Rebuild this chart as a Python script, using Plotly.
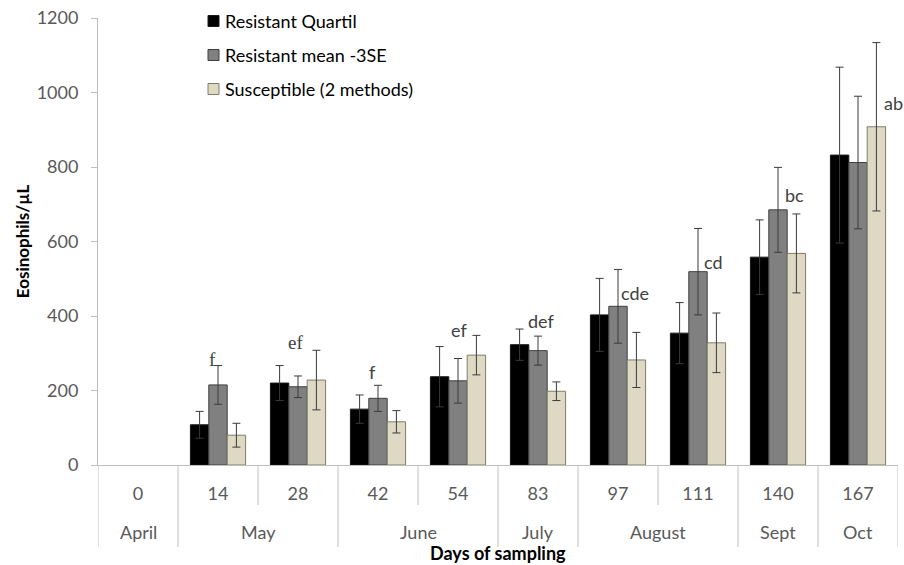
import plotly.graph_objects as go

# ---- data -------------------------------------------------------------
days = ["0", "14", "28", "42", "54", "83", "97", "111", "140", "167"]
months = ["April", "May", "May", "June", "June", "July", "August", "August", "Sept", "Oct"]

resistant_quartil = [None, 108, 220, 150, 237, 323, 403, 354, 558, 832]
resistant_quartil_err = [None, 36, 47, 38, 81, 42, 98, 82, 100, 236]

resistant_mean3se = [None, 215, 210, 179, 226, 307, 426, 519, 685, 812]
resistant_mean3se_err = [None, 52, 29, 35, 60, 39, 99, 116, 114, 178]

susceptible = [None, 80, 228, 116, 295, 198, 282, 328, 568, 908]
susceptible_err = [None, 32, 80, 30, 53, 25, 74, 80, 106, 226]

letters = ["", "f", "ef", "f", "ef", "def", "cde", "cd", "bc", "ab"]

series_names = ["Resistant Quartil", "Resistant mean -3SE", "Susceptible (2 methods)"]
y_ticks = [0, 200, 400, 600, 800, 1000, 1200]

# ---- styling / layout --------------------------------------------------
FONT = "Lato, Carlito, Calibri, sans-serif"
FS = 18
TEXT_GRAY = "#595959"
AXIS_GRAY = "#bfbfbf"
colors = ["#000000", "#808080", "#ddd9c3"]
outline = ["#1a1a1a", "#3f3f3f", "#7f7c6a"]

W, H = 904, 565
L, R, T, B = 98, 6, 18, 100
PW, PH = W - L - R, H - T - B

# letter placement: (offset from category centre in category units, y value)
letter_pos = [(0, 0), (-0.075, 282), (-0.03, 328), (-0.075, 250), (0.01, 362),
              (0.04, 387), (0.21, 462), (0.19, 545), (0.2, 725), (0.44, 972)]
letter_serif = [False, True, True, False, False, False, False, False, False, False]

xs = list(range(len(days)))

fig = go.Figure()
values = [resistant_quartil, resistant_mean3se, susceptible]
errors = [resistant_quartil_err, resistant_mean3se_err, susceptible_err]
for name, vals, errs, col, oc in zip(series_names, values, errors, colors, outline):
    fig.add_trace(go.Bar(
        x=xs, y=vals, name=name,
        marker=dict(color=col, line=dict(color=oc, width=1)),
        error_y=dict(type="data", array=errs, visible=True,
                     color="#3a3a3a", thickness=1, width=4),
        showlegend=False,
    ))

shapes = []
annotations = []


def py(px_y):
    """pixel row -> paper y"""
    return (H - B - px_y) / PH


def px(px_x):
    """pixel column -> paper x"""
    return (px_x - L) / PW


# category boundaries below the axis: long lines between months, short within
for i in range(len(days) + 1):
    edge = i == 0 or i == len(days)
    month_break = edge or months[i] != months[i - 1]
    shapes.append(dict(
        type="line", xref="x", yref="paper",
        x0=i - 0.5, x1=i - 0.5,
        y0=0, y1=py(547) if month_break else py(505),
        line=dict(color=AXIS_GRAY, width=1),
    ))

# month labels centred under their group of days
groups = []
for i, m in enumerate(months):
    if groups and groups[-1][0] == m:
        groups[-1][1].append(i)
    else:
        groups.append((m, [i]))
for m, idx in groups:
    annotations.append(dict(
        x=sum(idx) / len(idx), y=py(532), xref="x", yref="paper",
        text=m, showarrow=False, yanchor="middle",
        font=dict(family=FONT, size=FS, color=TEXT_GRAY),
    ))

# axis title below the months
annotations.append(dict(
    x=0.5, y=py(553), xref="paper", yref="paper",
    text="<b>Days of sampling</b>", showarrow=False, yanchor="middle",
    font=dict(family=FONT, size=18, color="#000000"),
))

# significance letters
for i, (lab, (off, yv), serif) in enumerate(zip(letters, letter_pos, letter_serif)):
    if not lab:
        continue
    annotations.append(dict(
        x=i + off, y=yv, xref="x", yref="y", text=lab, showarrow=False,
        yanchor="middle",
        font=dict(family="Liberation Serif, serif" if serif else FONT,
                  size=19 if serif else 18, color="#404040"),
    ))

# legend drawn as swatches + labels
legend_rows = [21, 55, 89]
for name, col, oc, ry in zip(series_names, colors, outline, legend_rows):
    shapes.append(dict(
        type="rect", xref="paper", yref="paper",
        x0=px(208), x1=px(219), y0=py(ry + 5.5), y1=py(ry - 5.5),
        fillcolor=col, line=dict(color=oc, width=1),
    ))
    annotations.append(dict(
        x=px(223), y=py(ry), xref="paper", yref="paper", text=name,
        showarrow=False, xanchor="left", yanchor="middle",
        font=dict(family=FONT, size=FS, color="#000000"),
    ))

fig.update_layout(
    width=W, height=H,
    margin=dict(l=L, r=R, t=T, b=B),
    paper_bgcolor="white", plot_bgcolor="white",
    barmode="group", bargap=0.31, bargroupgap=0,
    shapes=shapes, annotations=annotations,
    font=dict(family=FONT),
    xaxis=dict(
        range=[-0.5, len(days) - 0.5],
        tickmode="array", tickvals=xs, ticktext=days,
        ticks="", showline=True, linecolor=AXIS_GRAY, linewidth=1,
        showgrid=False, zeroline=False, ticklabelstandoff=12,
        tickfont=dict(family=FONT, size=FS, color=TEXT_GRAY),
    ),
    yaxis=dict(
        range=[0, 1200], tickmode="array", tickvals=y_ticks,
        ticks="outside", ticklen=6, tickcolor=AXIS_GRAY,
        showline=True, linecolor=AXIS_GRAY, linewidth=1,
        showgrid=False, zeroline=False, ticklabelstandoff=9,
        tickfont=dict(family=FONT, size=FS, color=TEXT_GRAY),
        title=dict(text="<b>Eosinophils/µL</b>", standoff=2,
                   font=dict(family=FONT, size=17, color="#000000")),
    ),
)

fig.write_html("out.html")
